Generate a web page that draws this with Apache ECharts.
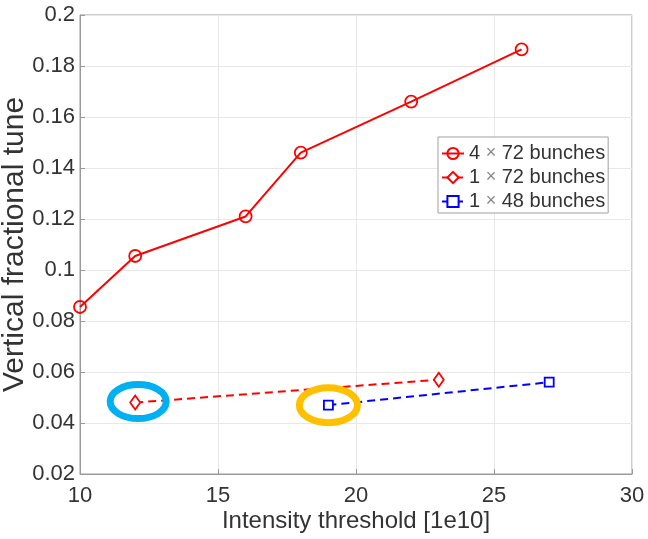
<!DOCTYPE html>
<html>
<head>
<meta charset="utf-8">
<script src="https://cdn.jsdelivr.net/npm/echarts@6/dist/echarts.min.js"></script>
<style>
  html, body { margin: 0; padding: 0; background: #fff; }
  #chart { width: 648px; height: 539px; }
</style>
</head>
<body>
<div id="chart"></div>
<script>
// Tune threshold vs. intensity for three bunch-train configurations
const xTicks = [10, 15, 20, 25, 30];
const yTicks = [0.02, 0.04, 0.06, 0.08, 0.1, 0.12, 0.14, 0.16, 0.18, 0.2];

const train4x72X = [10, 12, 16, 18, 22, 26];
const train4x72Y = [0.0855, 0.1055, 0.121, 0.146, 0.166, 0.1865];

const train1x72X = [12, 23];
const train1x72Y = [0.048, 0.057];

const train1x48X = [19, 27];
const train1x48Y = [0.047, 0.056];

const seriesNames = ['4 \u00d7 72 bunches', '1 \u00d7 72 bunches', '1 \u00d7 48 bunches'];

// highlighted points: [series index, point index]
const highlighted = [[1, 0], [2, 0]];

const FONT = "'Liberation Sans', Arial, sans-serif";

const pairs = (xs, ys) => xs.map((x, i) => [x, ys[i]]);

const chart = echarts.init(document.getElementById('chart'));

const option = {
  backgroundColor: '#ffffff',
  animation: false,
  grid: {
    left: 80, right: 16, top: 15, bottom: 65,
    outerBoundsMode: 'none', containLabel: false,
    show: true, borderColor: '#9a9a9a', borderWidth: 1, backgroundColor: 'transparent'
  },
  legend: {
    left: 438, top: 137,
    orient: 'vertical',
    itemWidth: 22, itemHeight: 14, itemGap: 1,
    padding: [5, 3, 0, 3],
    backgroundColor: '#ffffff',
    borderColor: '#a0a0a0', borderWidth: 1,
    textStyle: {
      fontFamily: FONT, fontSize: 20, color: '#333', lineHeight: 23,
      rich: { x: { fontFamily: FONT, fontSize: 18, color: '#888', lineHeight: 23 } }
    },
    formatter: function (name) {
      const parts = name.split(' \u00d7 ');
      return parts[0] + ' {x|\u00d7} ' + parts[1];
    },
    data: seriesNames
  },
  xAxis: {
    type: 'value', min: 10, max: 30, interval: 5,
    name: 'Intensity threshold [1e10]',
    nameLocation: 'middle', nameGap: 35, nameMoveOverlap: false,
    nameTextStyle: { fontFamily: FONT, fontSize: 24, color: '#333' },
    axisLine: { show: true, lineStyle: { color: '#9a9a9a', width: 1 } },
    axisTick: { show: true, inside: true, length: 5, lineStyle: { color: '#9a9a9a' } },
    axisLabel: { fontFamily: FONT, fontSize: 22, color: '#333', margin: 11,
      formatter: v => String(v) },
    splitLine: { show: true, lineStyle: { color: '#e8e8e8', width: 1 } }
  },
  yAxis: {
    type: 'value', min: 0.02, max: 0.2, interval: 0.02,
    name: 'Vertical fractional tune',
    nameLocation: 'middle', nameGap: 50, nameMoveOverlap: false,
    nameTextStyle: { fontFamily: FONT, fontSize: 30, color: '#333' },
    axisLine: { show: true, lineStyle: { color: '#9a9a9a', width: 1 } },
    axisTick: { show: true, inside: true, length: 5, lineStyle: { color: '#9a9a9a' } },
    axisLabel: { fontFamily: FONT, fontSize: 22, color: '#333', margin: 5,
      formatter: v => String(parseFloat(v.toFixed(2))) },
    splitLine: { show: true, lineStyle: { color: '#e8e8e8', width: 1 } }
  },
  series: [
    {
      name: seriesNames[0], type: 'line',
      data: pairs(train4x72X, train4x72Y),
      symbol: 'circle', symbolSize: 12,
      lineStyle: { color: '#ff0000', width: 2 },
      itemStyle: { color: 'rgba(255,255,255,0)', borderColor: '#ff0000', borderWidth: 1.8 },
      z: 3
    },
    {
      name: seriesNames[1], type: 'line',
      data: pairs(train1x72X, train1x72Y),
      symbol: 'diamond', symbolSize: [10, 14],
      lineStyle: { color: '#ff0000', width: 2, type: [8, 5] },
      itemStyle: { color: '#ffffff', borderColor: '#ff0000', borderWidth: 1.8 },
      z: 3
    },
    {
      name: seriesNames[2], type: 'line',
      data: pairs(train1x48X, train1x48Y),
      symbol: 'rect', symbolSize: 9,
      lineStyle: { color: '#0000ff', width: 2, type: [8, 5] },
      itemStyle: { color: '#ffffff', borderColor: '#0000ff', borderWidth: 1.8 },
      z: 3
    }
  ]
};

chart.setOption(option);

// Ring markers around the highlighted points, placed from their data values
const seriesX = [train4x72X, train1x72X, train1x48X];
const seriesY = [train4x72Y, train1x72Y, train1x48Y];
const ringStyles = [
  { color: '#00b0f0', rx: 28, ry: 17, dx: 3, dy: -1 },
  { color: '#ffc000', rx: 29, ry: 17.5, dx: 0, dy: 0 }
];
const rings = highlighted.map(([s, i], k) => {
  const p = chart.convertToPixel({ gridIndex: 0 }, [seriesX[s][i], seriesY[s][i]]);
  const st = ringStyles[k];
  return {
    type: 'ellipse',
    shape: { cx: p[0] + st.dx, cy: p[1] + st.dy, rx: st.rx, ry: st.ry },
    style: { fill: null, stroke: st.color, lineWidth: 7 },
    z: 100
  };
});
chart.setOption({ graphic: rings });
</script>
</body>
</html>
